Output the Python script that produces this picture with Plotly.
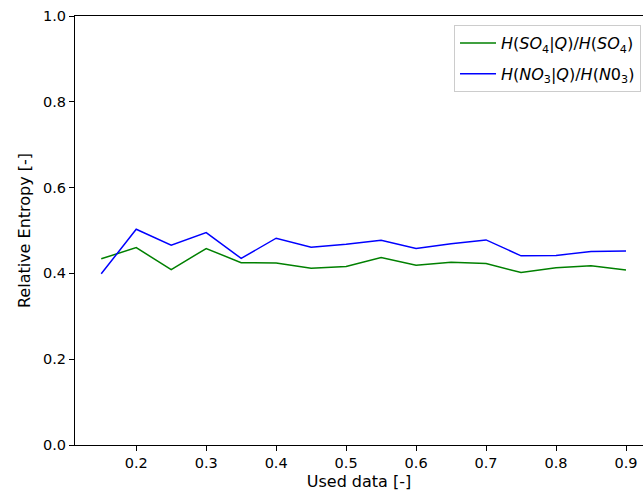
import plotly.graph_objects as go

used_data = [0.15, 0.2, 0.25, 0.3, 0.35, 0.4, 0.45, 0.5, 0.55, 0.6, 0.65, 0.7, 0.75, 0.8, 0.85, 0.9]
so4_entropy = [0.434, 0.460, 0.409, 0.458, 0.425, 0.424, 0.412, 0.416, 0.437, 0.419, 0.426, 0.423, 0.402, 0.413, 0.418, 0.408]
no3_entropy = [0.399, 0.503, 0.466, 0.495, 0.435, 0.482, 0.461, 0.468, 0.477, 0.458, 0.469, 0.478, 0.441, 0.442, 0.451, 0.452]

x_ticks = [0.2, 0.3, 0.4, 0.5, 0.6, 0.7, 0.8, 0.9]
y_ticks = [0.0, 0.2, 0.4, 0.6, 0.8, 1.0]

name_so4 = "<i>H</i>(<i>SO</i><sub>4</sub>|<i>Q</i>)/<i>H</i>(<i>SO</i><sub>4</sub>)"
name_no3 = "<i>H</i>(<i>NO</i><sub>3</sub>|<i>Q</i>)/<i>H</i>(<i>N</i>0<sub>3</sub>)"

fig = go.Figure()
fig.add_trace(go.Scatter(x=used_data, y=so4_entropy, mode="lines", name=name_so4,
                         legendgroup="so4",
                         line=dict(color="#008000", width=1.5)))
fig.add_trace(go.Scatter(x=used_data, y=no3_entropy, mode="lines", name=name_no3,
                         legendgroup="no3",
                         line=dict(color="#0000ff", width=1.5)))

tick_font = dict(family="DejaVu Sans", size=14.5, color="black")
title_font = dict(family="DejaVu Sans", size=16, color="black")
fig.update_layout(
    width=643, height=497,
    margin=dict(l=75, r=0, t=16, b=52),
    paper_bgcolor="white", plot_bgcolor="white",
    font=tick_font,
    showlegend=True,
    legend=dict(x=0.9965, y=0.979, xanchor="right", yanchor="top",
                bgcolor="white", bordercolor="#cccccc", borderwidth=1,
                tracegroupgap=7, itemwidth=36,
                font=dict(family="DejaVu Sans", size=16, color="black")),
    xaxis=dict(range=[0.1125, 0.9243], tickvals=x_ticks, ticktext=[f"{v:.1f}" for v in x_ticks],
               showgrid=False, zeroline=False, showline=True, linecolor="black", linewidth=1,
               mirror=True, ticks="outside", ticklen=5, tickcolor="black", tickfont=tick_font,
               title=dict(text="Used data [-]", standoff=5, font=title_font)),
    yaxis=dict(range=[0, 1], tickvals=y_ticks, ticktext=[f"{v:.1f}" for v in y_ticks],
               showgrid=False, zeroline=False, showline=True, linecolor="black", linewidth=1,
               mirror=False, ticks="outside", ticklen=5, tickcolor="black", tickfont=tick_font,
               title=dict(text="Relative Entropy [-]", standoff=8, font=title_font)),
)

fig.write_html("out.html")
